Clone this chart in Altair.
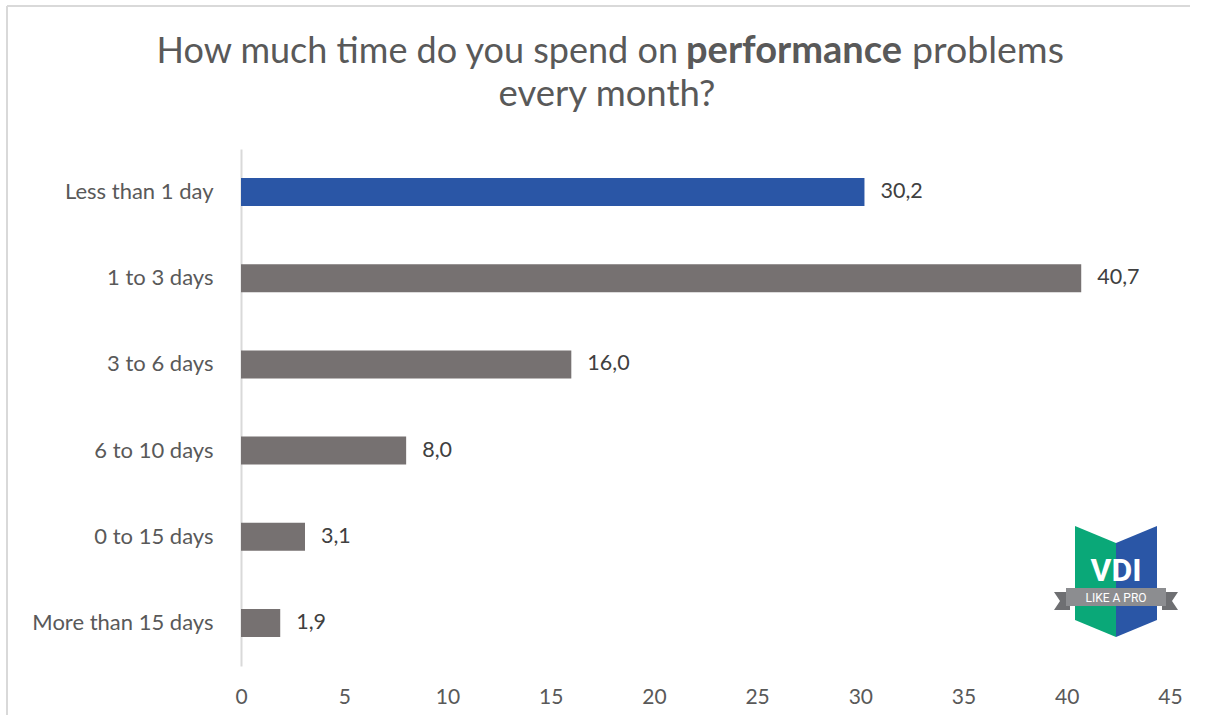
import altair as alt
import pandas as pd

categories = ["Less than 1 day", "1 to 3 days", "3 to 6 days", "6 to 10 days",
              "0 to 15 days", "More than 15 days"]
values = [30.2, 40.7, 16.0, 8.0, 3.1, 1.9]
labels = ["30,2", "40,7", "16,0", "8,0", "3,1", "1,9"]
highlight = [True, False, False, False, False, False]
x_ticks = [0, 5, 10, 15, 20, 25, 30, 35, 40, 45]

df = pd.DataFrame({"cat": categories, "val": values, "lab": labels, "hi": highlight})

W, H = 929, 517
FONT = "Lato"
TXT = "#595959"
L, T = 241, 149

y_enc = alt.Y("cat:N", sort=categories, title=None,
              scale=alt.Scale(paddingInner=0.675, paddingOuter=0.3375),
              axis=alt.Axis(domainColor="#d9d9d9", domainWidth=2, ticks=False,
                            labelFontSize=22, labelColor=TXT, labelFont=FONT,
                            labelPadding=28, labelLimit=400, grid=False))
x_enc = alt.X("val:Q", title=None,
              scale=alt.Scale(domain=[0, 45], nice=False),
              axis=alt.Axis(values=x_ticks, domain=False, ticks=False, grid=False,
                            labelFontSize=21, labelColor=TXT, labelFont=FONT,
                            labelPadding=20, labelFlush=False))

bars = alt.Chart(df).mark_bar().encode(
    x=x_enc, y=y_enc,
    color=alt.Color("hi:N", scale=alt.Scale(domain=[True, False],
                                            range=["#2A56A6", "#767171"]), legend=None),
)
vals = alt.Chart(df).mark_text(align="left", baseline="middle", dx=16,
                               fontSize=21.5, font=FONT, color="#404040").encode(
    x="val:Q", y=alt.Y("cat:N", sort=categories), text="lab:N")

# Title pieces (mixed weight)
t_base = dict(font=FONT, color=TXT, baseline="alphabetic")
t1 = alt.Chart().mark_text(align="right", fontWeight="normal", dx=-8, fontSize=36, **t_base).encode(
    x=alt.value(686 - L), y=alt.value(63 - T),
    text=alt.value("How much time do you spend on"))
t2 = alt.Chart().mark_text(align="left", fontWeight="bold", fontSize=38, **t_base).encode(
    x=alt.value(686 - L), y=alt.value(63 - T), text=alt.value("performance"))
t3 = alt.Chart().mark_text(align="left", fontWeight="normal", fontSize=37.5, **t_base).encode(
    x=alt.value(912 - L), y=alt.value(63 - T), text=alt.value("problems"))
t4 = alt.Chart().mark_text(align="center", fontWeight="normal", fontSize=36.5, **t_base).encode(
    x=alt.value(607 - L), y=alt.value(106 - T), text=alt.value("every month?"))

# Outer frame (top and left edges visible in the reference)
frame_top = alt.Chart().mark_rule(color="#d9d9d9", strokeWidth=2).encode(
    x=alt.value(7 - L), x2=alt.value(1190 - L), y=alt.value(6 - T))
frame_left = alt.Chart().mark_rule(color="#d9d9d9", strokeWidth=2).encode(
    x=alt.value(7 - L), y=alt.value(6 - T), y2=alt.value(715 - T))

# Logo
cx, cy = 1116 - L, 580 - T
def shape(path, color):
    return alt.Chart().mark_point(shape=path, size=4, filled=True, opacity=1,
                                  color=color, strokeWidth=0).encode(
        x=alt.value(cx), y=alt.value(cy))

green = shape("M-41,-54L0,-37L0,57L-41,40Z", "#0AA878")
blue = shape("M0,-37L41,-54L41,40L0,57Z", "#2A56A6")
tails = shape("M-62,12L-46,12L-46,30L-62,30L-56,21Z M62,12L46,12L46,30L62,30L56,21Z", "#6E6F72")
ribbon = shape("M-50,8L50,8L50,26L-50,26Z", "#8C8D90")
vdi = alt.Chart().mark_text(text="VDI", font="Roboto", fontWeight="bold", fontSize=32,
                            color="white", align="center", baseline="middle").encode(
    x=alt.value(cx), y=alt.value(cy - 9))
pro = alt.Chart().mark_text(text="LIKE A PRO", font="Roboto", fontSize=12,
                            color="white", align="center", baseline="middle").encode(
    x=alt.value(cx), y=alt.value(cy + 17.5))

chart = alt.layer(frame_top, frame_left, bars, vals, t1, t2, t3, t4,
                  green, blue, tails, ribbon, vdi, pro).properties(
    width=W, height=H,
    autosize=alt.AutoSizeParams(type="none"),
    padding={"left": L, "top": T, "right": 35, "bottom": 56},
    background="white",
).configure_view(stroke=None)

chart.save("out.html", embed_options={"renderer": "svg", "actions": False})
